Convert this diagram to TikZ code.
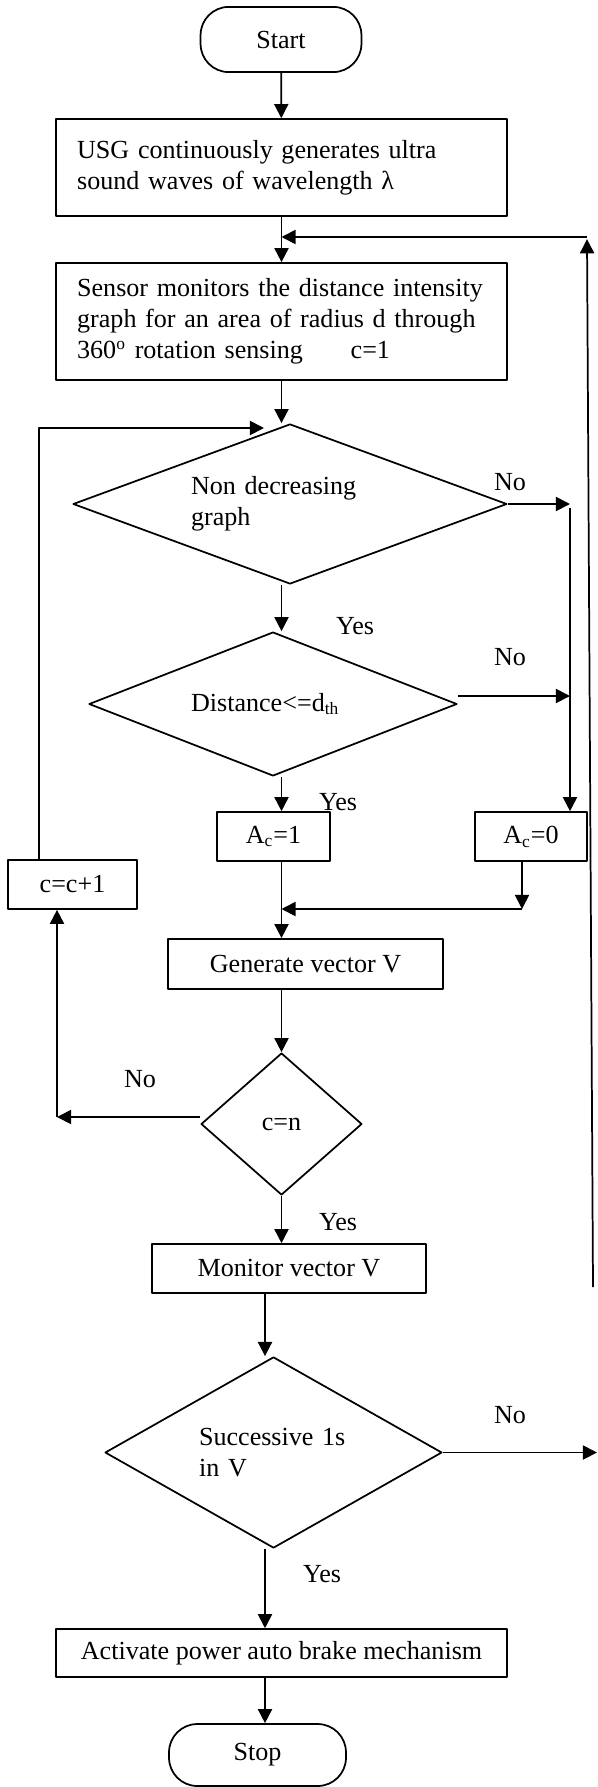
\documentclass[tikz,border=0pt]{standalone}
\usepackage{fontspec}
\setmainfont{Liberation Serif}
\usetikzlibrary{shapes.geometric,arrows.meta}
\begin{document}
\begin{tikzpicture}[x=0.46pt,y=-0.46pt,>={Triangle[length=6.5pt,width=6.5pt]},
		font=\fontsize{12pt}{14.3pt}\selectfont, line width=0.8pt, line join=round,
		term/.style={draw, rounded corners=13pt, inner sep=0pt},
		proc/.style={draw, rectangle, inner sep=0pt},
		dec/.style={draw, diamond, inner sep=0pt},
		lbl/.style={inner sep=0pt}]
	\useasboundingbox (0,0) rectangle (597,1787);
	\node[term, minimum width=74pt, minimum height=30pt] (start) at (281,39.5) {Start};
	\node[proc, minimum width=207.5pt, minimum height=44.6pt, text width=188pt, align=left] (usg) at (281.5,167.5) {USG continuously generates ultra\\sound waves of wavelength λ};
	\node[proc, minimum width=207.5pt, minimum height=53.8pt, text width=188pt, align=left] (sensor) at (281.5,321.5) {Sensor monitors the distance intensity\\graph for an area of radius d through\\360\textsuperscript{o} rotation sensing\hspace{22pt}c=1};
	\node[dec, minimum width=199.6pt, minimum height=73.6pt, aspect=2.7, text width=91pt, align=left] (nondec) at (290,504) {Non decreasing\\graph};
	\node[dec, minimum width=169.3pt, minimum height=66.2pt, aspect=2.56, text width=75.4pt, align=left] (dist) at (273,704) {Distance<=d\textsubscript{th}};
	\node[proc, minimum width=52pt, minimum height=22.5pt] (ac1) at (273.5,836.5) {A\textsubscript{c}=1};
	\node[proc, minimum width=51.5pt, minimum height=22.5pt] (ac0) at (531,836.5) {A\textsubscript{c}=0};
	\node[proc, minimum width=59.3pt, minimum height=22.5pt] (cinc) at (72.5,884.5) {c=c+1};
	\node[proc, minimum width=126.5pt, minimum height=23pt] (genv) at (305.5,964) {Generate vector V};
	\node[dec, minimum width=74pt, minimum height=65.3pt, aspect=1.13] (cn) at (281.5,1124) {c=n};
	\node[proc, minimum width=126pt, minimum height=22.5pt] (monv) at (289,1268.5) {Monitor vector V};
	\node[dec, minimum width=155pt, minimum height=87.9pt, aspect=1.76, text width=68.5pt, align=left] (succ) at (273.5,1452.5) {Successive 1s\\in V};
	\node[proc, minimum width=207.5pt, minimum height=22pt] (brake) at (281.5,1653) {Activate power auto brake mechanism};
	\node[term, minimum width=81.4pt, minimum height=28.5pt] (stop) at (257.5,1755) {Stop};
	% free ends
	\coordinate (fbtop) at (587,237);
	\coordinate (fbbot) at (593,1287);
	\coordinate (loopL) at (39,428);
	\coordinate (loopR) at (264,428);
	\coordinate (noA) at (570,504);
	\coordinate (noB) at (570,696);
	\coordinate (mergeR) at (522,909);
	\coordinate (merge) at (281.5,909);
	\coordinate (cnL) at (57,1117);
	\coordinate (axis) at (265,1293);
	\coordinate (exit) at (597,1452.5);
	% main flow
	\draw[->] (start) -- (usg);
	\draw[->] (usg) -- (sensor);
	\draw[->] (fbbot) -- ([yshift=-1pt]fbtop);
	\draw[->] (fbtop) -- (fbtop -| usg.south);
	\draw[->] (sensor.south) -- (sensor.south |- nondec.north);
	\draw[->] (cinc.north -| loopL) -- (loopL) -- (loopR);
	\draw[->] (nondec.east) -- (noA);
	\draw[->] ([yshift=-2pt]noA) -- (noA |- ac0.north);
	\draw[->] (dist.east |- noB) -- (noB);
	\draw[->] (nondec.south -| sensor.south) -- (dist.north -| sensor.south);
	\draw[->] (dist.south -| sensor.south) -- (ac1.north -| sensor.south);
	\draw[->] (ac1.south -| sensor.south) -- (genv.north -| sensor.south);
	\draw[->] (ac0.south -| mergeR) -- (mergeR);
	\draw[->] (mergeR) -- (merge);
	\draw[->] (genv.south -| cn.north) -- (cn.north);
	\draw[->] (cn.west |- cnL) -- (cnL);
	\draw[->] (cnL) -- (cnL |- cinc.south);
	\draw[->] (cn.south) -- (cn.south |- monv.north);
	\draw[->] (axis) -- (axis |- succ.north);
	\draw[->] (succ.east) -- (exit);
	\draw[->] (succ.south -| axis) -- (brake.north -| axis);
	\draw[->] (brake.south -| axis) -- (stop.north -| axis);
	% branch labels
	\node[lbl] (no1) at (510,482) {No};
	\node[lbl] (yes1) at (355,626) {Yes};
	\node[lbl] (no2) at (510,657) {No};
	\node[lbl] (yes2) at (338,802) {Yes};
	\node[lbl] (no3) at (140,1079) {No};
	\node[lbl] (yes3) at (338,1222) {Yes};
	\node[lbl] (no4) at (510,1415) {No};
	\node[lbl] (yes4) at (322,1574) {Yes};
\end{tikzpicture}
\end{document}
